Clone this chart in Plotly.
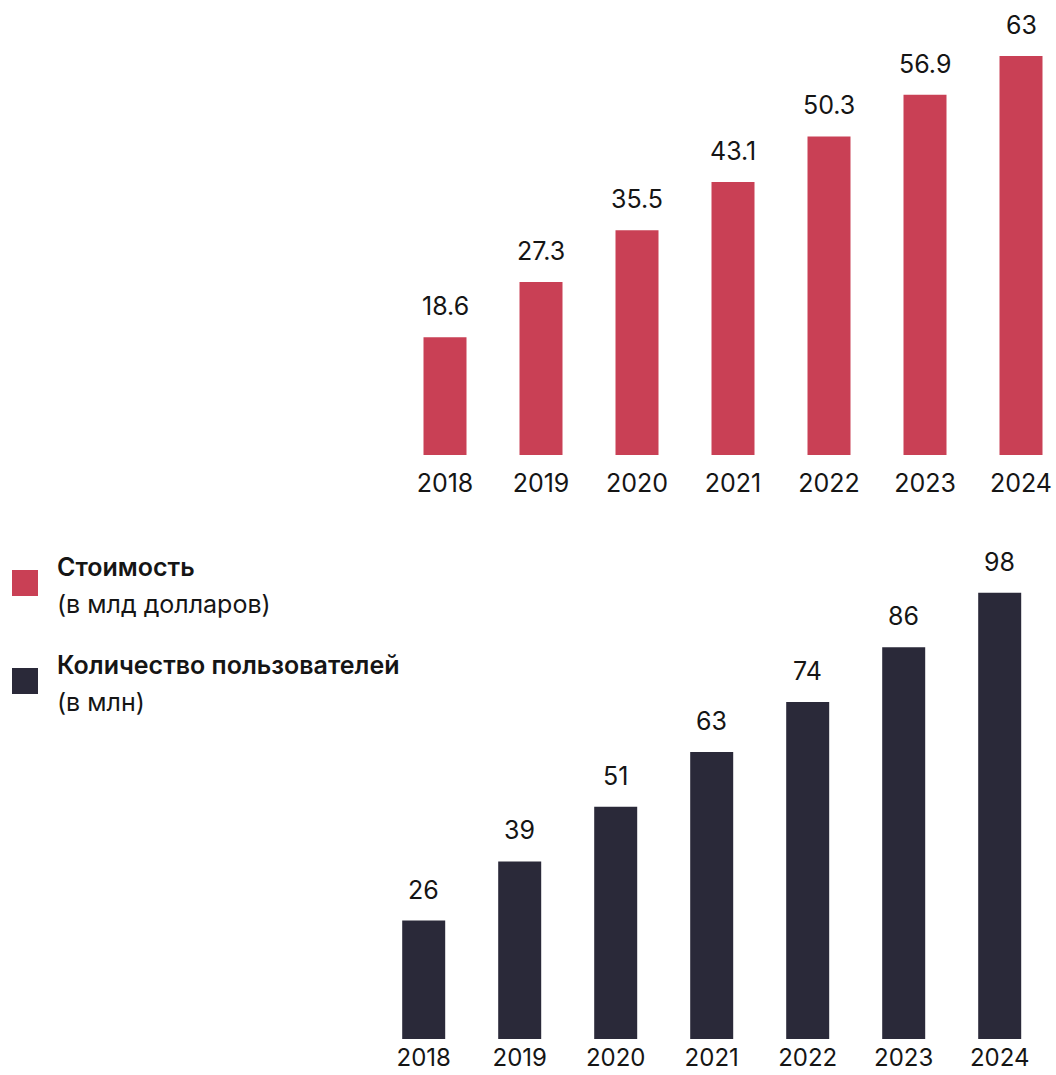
import plotly.graph_objects as go

# Market data, 2018-2024
years = ["2018", "2019", "2020", "2021", "2022", "2023", "2024"]
value_bn_usd = [18.6, 27.3, 35.5, 43.1, 50.3, 56.9, 63]
users_mln = [26, 39, 51, 63, 74, 86, 98]

legend_titles = ["Стоимость", "Количество пользователей"]
legend_units = ["(в млд долларов)", "(в млн)"]

RED = "#C94055"
DARK = "#2A2939"
TEXT = "#151515"
FONT = "Inter"
FS = 25

W, H = 1056, 1075
idx = list(range(len(years)))


def py(px):
    """Convert a pixel offset from the top into paper y."""
    return 1 - px / H


fig = go.Figure()

fig.add_trace(go.Bar(x=idx, y=value_bn_usd, width=0.448, marker=dict(color=RED, line_width=0),
                     xaxis="x", yaxis="y", hoverinfo="skip"))
fig.add_trace(go.Bar(x=idx, y=users_mln, width=0.448, marker=dict(color=DARK, line_width=0),
                     xaxis="x2", yaxis="y2", hoverinfo="skip"))

annotations = []
for i, v in zip(idx, value_bn_usd):
    annotations.append(dict(x=i, y=v, xref="x", yref="y", text=f"{v:g}", showarrow=False,
                            yanchor="bottom", yshift=14, font=dict(size=FS, color=TEXT, family=FONT)))
for i, v in zip(idx, users_mln):
    annotations.append(dict(x=i, y=v, xref="x2", yref="y2", text=f"{v:g}", showarrow=False,
                            yanchor="bottom", yshift=14, font=dict(size=FS, color=TEXT, family=FONT)))

# Legend block drawn as swatches plus two-line captions
swatch_tops = [570, 668]
swatch_colors = [RED, DARK]
shapes = []
for top, col, title, unit in zip(swatch_tops, swatch_colors, legend_titles, legend_units):
    shapes.append(dict(type="rect", xref="paper", yref="paper", x0=12 / W, x1=38 / W,
                       y0=py(top + 26), y1=py(top), fillcolor=col, line_width=0))
    annotations.append(dict(x=55 / W, y=py(top - 3), xref="paper", yref="paper", text=title,
                            showarrow=False, xanchor="left", yanchor="middle",
                            font=dict(size=FS, color=TEXT, family=FONT, weight=600)))
    annotations.append(dict(x=55 / W, y=py(top + 34), xref="paper", yref="paper", text=unit,
                            showarrow=False, xanchor="left", yanchor="middle",
                            font=dict(size=FS, color=TEXT, family=FONT)))

axis_common = dict(showgrid=False, zeroline=False, showline=False, ticks="", automargin=False,
                   fixedrange=True)

fig.update_layout(
    width=W, height=H,
    margin=dict(l=0, r=0, t=0, b=0, autoexpand=False),
    paper_bgcolor="white", plot_bgcolor="white",
    showlegend=False,
    xaxis=dict(domain=[0, 1], range=[-445 / 96, (W - 445) / 96], anchor="y",
               tickmode="array", tickvals=idx, ticktext=years, ticklabelstandoff=11,
               tickfont=dict(size=FS, color=TEXT, family=FONT), **axis_common),
    yaxis=dict(domain=[py(455), 1], range=[0, 455 / 6.333], visible=False),
    xaxis2=dict(domain=[0, 1], range=[-423.7 / 96, (W - 423.7) / 96], anchor="y2",
                tickmode="array", tickvals=idx, ticktext=years, ticklabelstandoff=2,
                tickfont=dict(size=24, color=TEXT, family=FONT), **axis_common),
    yaxis2=dict(domain=[py(1039), py(520)], range=[0, (1039 - 520) / 4.554], visible=False),
    annotations=annotations,
    shapes=shapes,
)

fig.write_html("out.html")
